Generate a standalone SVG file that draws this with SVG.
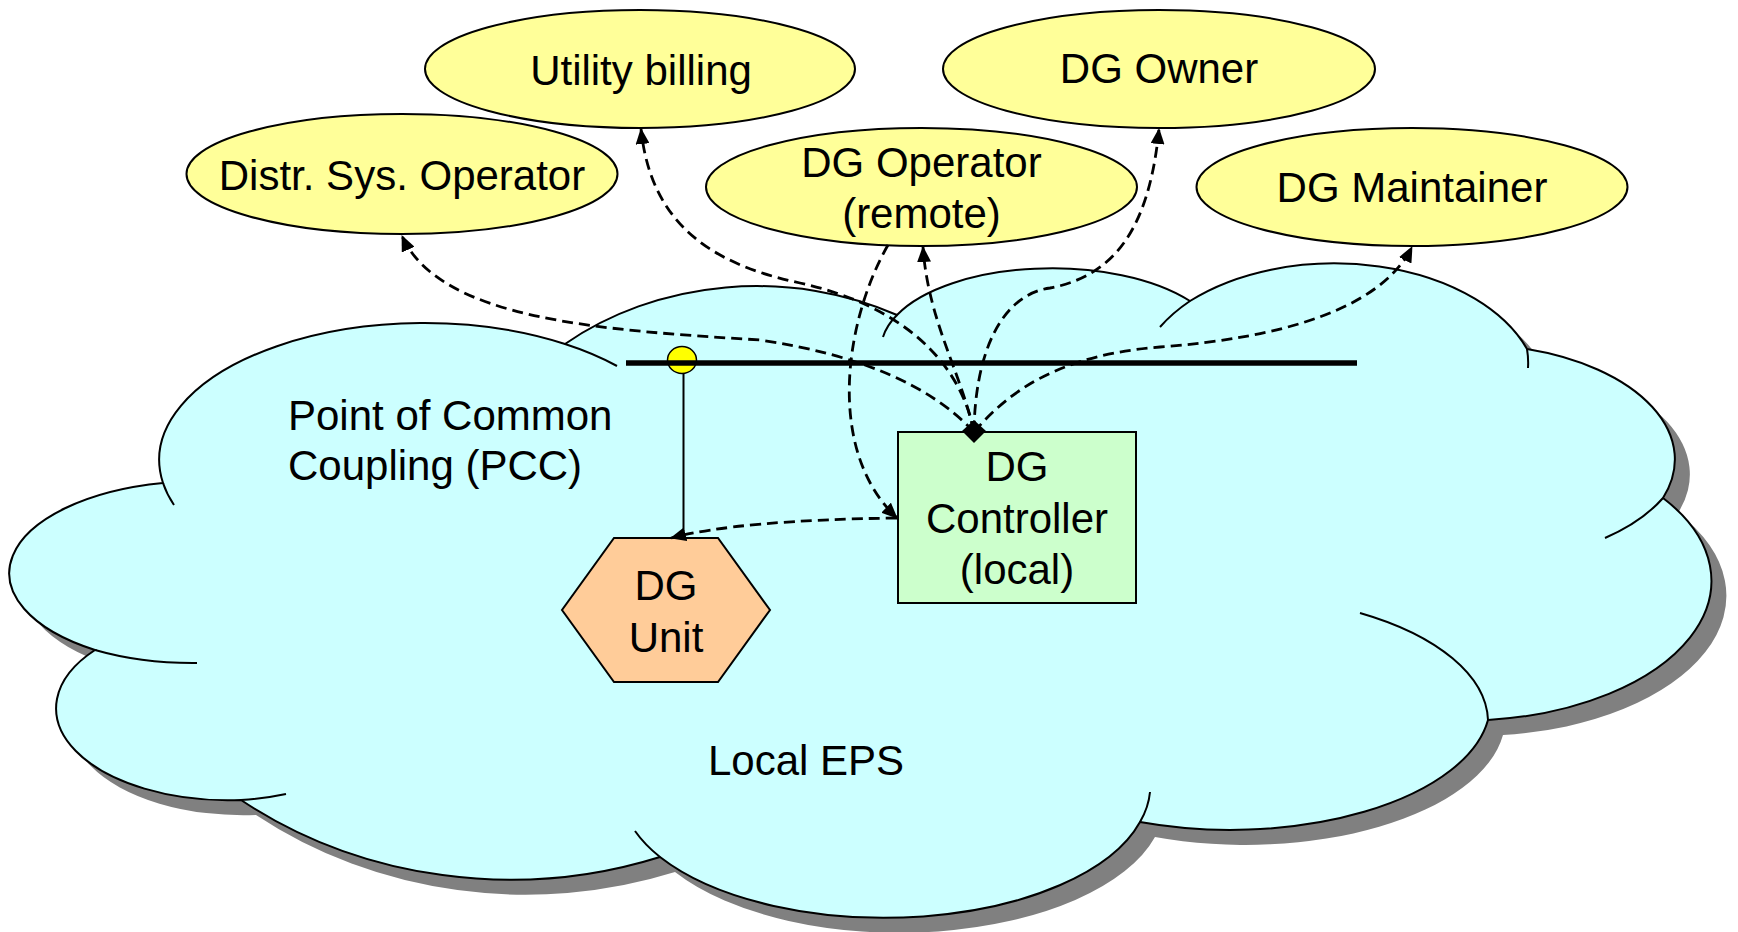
<svg xmlns="http://www.w3.org/2000/svg" width="1738" height="932" viewBox="0 0 1738 932">
<defs>
<style>
text { font-family: "Liberation Sans", Arial, sans-serif; font-size: 42px; fill: #000; }
.mid { text-anchor: middle; }
.actor { fill: #FFFF99; stroke: #000; stroke-width: 2; }
.cl { fill: none; stroke: #000; stroke-width: 2; }
.dash { fill: none; stroke: #000; stroke-width: 2.8; stroke-dasharray: 11 6; }
</style>
<marker id="arr" markerUnits="userSpaceOnUse" markerWidth="16" markerHeight="14" viewBox="0 0 16 14" refX="15" refY="7" orient="auto"><path d="M0,0 L16,7 L0,14 z" fill="#000"/></marker>
<path id="cloudShape" d="M 163 483 A 265 137 0 0 1 565 344 A 300 250 0 0 1 897 315 A 170 79 0 0 1 1190 301 A 205 130 0 0 1 1527 349 A 205 115 0 0 1 1663 498 A 250 140 0 0 1 1488 720 A 260 127 0 0 1 1140 822 A 265 130 0 0 1 660 857 A 450 400 0 0 1 241 800 A 172 92 0 0 1 95 650 A 191 92 0 0 1 163 483 Z"/>
</defs>

<g id="local-eps">
<use href="#cloudShape" transform="translate(15,15)" fill="#808080"/>
<use href="#cloudShape" fill="#CCFFFF" stroke="#000" stroke-width="2"/>
<path class="cl" d="M 174 505 A 265 137 0 0 1 163 483 M 565 344 A 265 137 0 0 1 617 366 M 883 337 A 170 79 0 0 1 897 315 M 1160 327 A 205 130 0 0 1 1190 301 M 1527 349 A 205 130 0 0 1 1528 368 M 1663 498 A 205 115 0 0 1 1605 538 M 1360 613 A 260 127 0 0 1 1488 720 M 1150 792 A 265 130 0 0 1 1140 822 M 660 857 A 265 130 0 0 1 635 831 M 286 794 A 172 92 0 0 1 241 800 M 197 663 A 191 92 0 0 1 95 650"/>
<text class="mid" x="806" y="775">Local EPS</text>
</g>

<g id="pcc">
<ellipse cx="682" cy="360" rx="14.5" ry="13.5" fill="#FFFF00" stroke="#000" stroke-width="1.5"/>
<line x1="626" y1="363" x2="1357" y2="363" stroke="#000" stroke-width="5.5"/>
<line x1="683.5" y1="373" x2="683.5" y2="531" stroke="#000" stroke-width="2"/>
<text x="288" y="430">Point of Common</text>
<text x="288" y="480">Coupling (PCC)</text>
</g>

<g id="distr-sys-operator">
<ellipse class="actor" cx="402" cy="174" rx="215.5" ry="60"/>
<text class="mid" x="402" y="190">Distr. Sys. Operator</text>
</g>
<g id="utility-billing">
<ellipse class="actor" cx="640" cy="69" rx="215" ry="59"/>
<text class="mid" x="641" y="85">Utility billing</text>
</g>
<g id="dg-operator">
<ellipse class="actor" cx="921.5" cy="187" rx="215.5" ry="59"/>
<text class="mid" x="921.5" y="177">DG Operator</text>
<text class="mid" x="921.5" y="228">(remote)</text>
</g>
<g id="dg-owner">
<ellipse class="actor" cx="1159" cy="69" rx="216" ry="59"/>
<text class="mid" x="1159" y="83">DG Owner</text>
</g>
<g id="dg-maintainer">
<ellipse class="actor" cx="1412" cy="187" rx="215.5" ry="59"/>
<text class="mid" x="1412" y="202">DG Maintainer</text>
</g>

<g id="dg-controller">
<rect x="898" y="432" width="238" height="171" fill="#CCFFCC" stroke="#000" stroke-width="2"/>
<text class="mid" x="1017" y="481">DG</text>
<text class="mid" x="1017" y="533">Controller</text>
<text class="mid" x="1017" y="584">(local)</text>
</g>

<g id="dg-unit">
<polygon points="614,538 718,538 770,610 718,682 614,682 562,610" fill="#FFCC99" stroke="#000" stroke-width="2"/>
<text class="mid" x="666" y="600">DG</text>
<text class="mid" x="666" y="652">Unit</text>
</g>

<g id="connectors">
<path class="dash" marker-end="url(#arr)" d="M 974 432 C 930 385 860 355 760 340 C 600 330 440 320 402 236"/>
<path class="dash" marker-end="url(#arr)" d="M 974 432 C 960 360 900 305 800 283 C 700 262 650 215 641 129"/>
<path class="dash" marker-end="url(#arr)" d="M 974 432 C 960 370 928 320 923 247"/>
<path class="dash" marker-end="url(#arr)" d="M 974 432 C 975 355 1000 295 1050 288 C 1120 275 1150 220 1159 129"/>
<path class="dash" marker-end="url(#arr)" d="M 974 432 C 1010 390 1060 355 1160 347 C 1280 338 1380 310 1412 247"/>
<path class="dash" marker-end="url(#arr)" d="M 888 245 C 845 320 825 450 897 518"/>
<path class="dash" marker-end="url(#arr)" d="M 897 518 Q 740 520 671 538"/>
<polygon points="974,420 986,431 974,443 962,431" fill="#000"/>
</g>
</svg>
